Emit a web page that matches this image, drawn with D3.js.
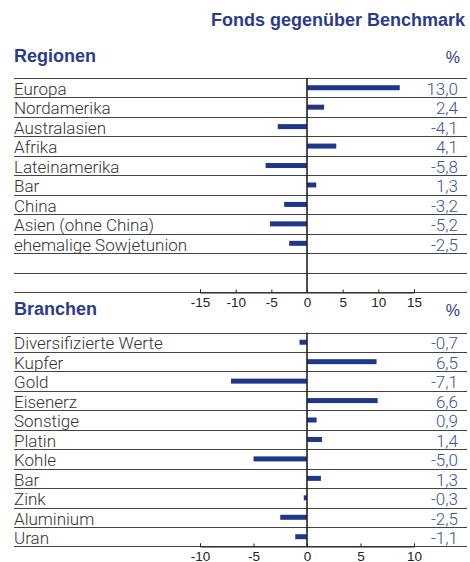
<!DOCTYPE html>
<html>
<head>
<meta charset="utf-8">
<script src="https://cdn.jsdelivr.net/npm/d3@7"></script>
<style>
  body { margin: 0; background: #fff; }
  svg { display: block; }
</style>
</head>
<body>
<div id="chart"></div>
<script>
// Fonds gegenüber Benchmark - two panel diverging bars
const regionCategories = ["Europa", "Nordamerika", "Australasien", "Afrika", "Lateinamerika",
    "Bar", "China", "Asien (ohne China)", "ehemalige Sowjetunion"];
const regionValues = [13.0, 2.4, -4.1, 4.1, -5.8, 1.3, -3.2, -5.2, -2.5];
const regionTicks = [-15, -10, -5, 0, 5, 10, 15];

const sectorCategories = ["Diversifizierte Werte", "Kupfer", "Gold", "Eisenerz", "Sonstige",
    "Platin", "Kohle", "Bar", "Zink", "Aluminium", "Uran"];
const sectorValues = [-0.7, 6.5, -7.1, 6.6, 0.9, 1.4, -5.0, 1.3, -0.3, -2.5, -1.1];
const sectorTicks = [-10, -5, 0, 5, 10];

const width = 470, height = 562;
const titleBlue = "#2a3c8c";
const valueBlue = "#3a52a0";
const barBlue = "#1f3788";
const textDark = "#333";
const fontFamily = "'Liberation Sans', Arial, sans-serif";
const rowFont = "Roboto, 'Liberation Sans', sans-serif";

const de = d3.formatLocale({ decimal: ",", thousands: ".", grouping: [3], currency: ["", " €"], minus: "-" });
const fmt = de.format(".1f");

const svg = d3.select("#chart")
    .append("svg")
    .attr("width", width)
    .attr("height", height);

svg.append("text")
    .attr("x", 465)
    .attr("y", 26)
    .attr("text-anchor", "end")
    .attr("font-family", fontFamily)
    .attr("font-size", "18px")
    .attr("font-weight", "bold")
    .attr("fill", titleBlue)
    .text("Fonds gegenüber Benchmark");

function drawPanel(opts) {
    const { title, titleY, cats, vals, ticks, domain, top, rows } = opts;
    const rowH = 19.45;
    const bottom = top + rowH * rows;
    const lineX0 = 14, lineX1 = 467;

    const x = d3.scaleLinear().domain(domain).range([200, 414]);
    const y = d3.scaleBand().domain(d3.range(rows)).range([top, bottom]);

    const g = svg.append("g");

    g.append("text")
        .attr("x", 14)
        .attr("y", titleY)
        .attr("font-family", fontFamily)
        .attr("font-size", "18px")
        .attr("font-weight", "bold")
        .attr("fill", titleBlue)
        .text(title);

    g.append("text")
        .attr("x", 460)
        .attr("y", titleY + 1)
        .attr("text-anchor", "end")
        .attr("font-family", fontFamily)
        .attr("font-size", "16px")
        .attr("fill", titleBlue)
        .text("%");

    // row lines
    g.selectAll("line.row")
        .data(d3.range(rows + 1))
        .enter()
        .append("line")
        .attr("class", "row")
        .attr("x1", lineX0)
        .attr("x2", lineX1)
        .attr("y1", i => Math.round(top + i * rowH) + 0.5)
        .attr("y2", i => Math.round(top + i * rowH) + 0.5)
        .attr("stroke", "#444")
        .attr("stroke-width", 1);

    // bars
    g.selectAll("rect.bar")
        .data(vals)
        .enter()
        .append("rect")
        .attr("class", "bar")
        .attr("x", d => x(Math.min(0, d)))
        .attr("width", d => Math.abs(x(d) - x(0)))
        .attr("y", (d, i) => y(i) + y.bandwidth() / 2 - 2.5)
        .attr("height", 5)
        .attr("fill", barBlue);

    // category labels
    g.selectAll("text.cat")
        .data(cats)
        .enter()
        .append("text")
        .attr("class", "cat")
        .attr("x", 14)
        .attr("y", (d, i) => y(i) + y.bandwidth() - 2.5)
        .attr("font-family", rowFont)
        .attr("font-weight", 300)
        .attr("font-size", "17px")
        .attr("fill", textDark)
        .text(d => d);

    // values
    g.selectAll("text.val")
        .data(vals)
        .enter()
        .append("text")
        .attr("class", "val")
        .attr("x", 458)
        .attr("y", (d, i) => y(i) + y.bandwidth() - 2.5)
        .attr("text-anchor", "end")
        .attr("font-family", rowFont)
        .attr("font-weight", 300)
        .attr("font-size", "17px")
        .attr("fill", valueBlue)
        .text(d => fmt(d));

    // zero line
    g.append("line")
        .attr("x1", x(0))
        .attr("x2", x(0))
        .attr("y1", top)
        .attr("y2", bottom)
        .attr("stroke", "#222")
        .attr("stroke-width", 1.6);

    // axis
    const axis = d3.axisTop(x)
        .tickValues(ticks)
        .tickSize(3)
        .tickFormat(d => d3.format("d")(d).replace("−", "-"));

    const ax = g.append("g")
        .attr("transform", `translate(0, ${Math.round(bottom) + 0.5})`)
        .call(axis);
    ax.select(".domain").attr("stroke", "#222");
    ax.selectAll(".tick line").attr("stroke", "#222");
    ax.selectAll(".tick text")
        .attr("y", 14)
        .attr("dy", 0)
        .attr("font-family", fontFamily)
        .attr("font-size", "13.5px")
        .attr("fill", "#222");
}

drawPanel({
    title: "Regionen", titleY: 62,
    cats: regionCategories, vals: regionValues, ticks: regionTicks,
    domain: [-15, 15], top: 78, rows: 11
});

drawPanel({
    title: "Branchen", titleY: 315,
    cats: sectorCategories, vals: sectorValues, ticks: sectorTicks,
    domain: [-10, 10], top: 332.5, rows: 11
});
</script>
</body>
</html>
